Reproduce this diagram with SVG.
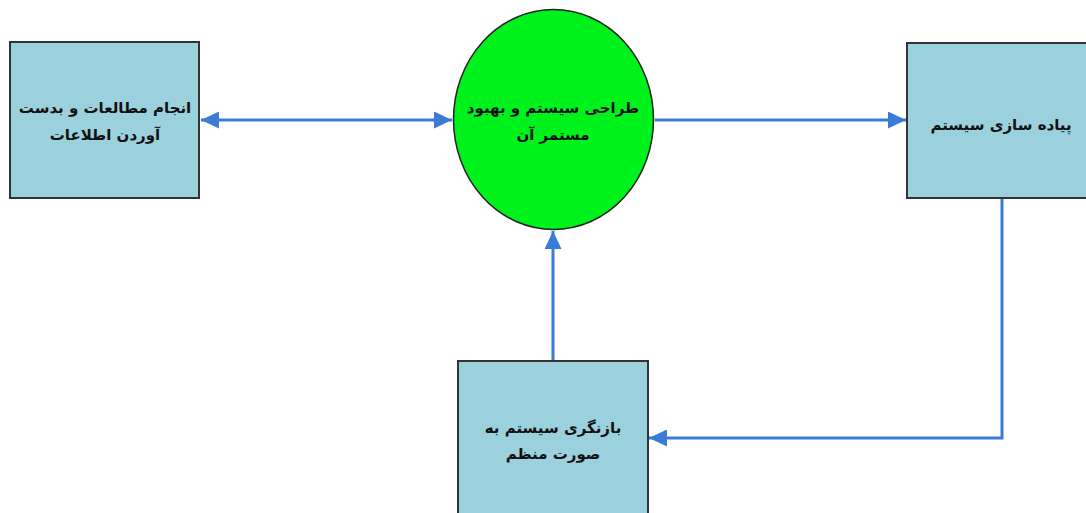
<svg xmlns="http://www.w3.org/2000/svg" width="1086" height="513" viewBox="0 0 1086 513">
<defs>
<marker id="ah" viewBox="0 0 10 10" refX="10" refY="5" markerWidth="18" markerHeight="17" markerUnits="userSpaceOnUse" orient="auto-start-reverse" preserveAspectRatio="none">
<path d="M0,0 L10,5 L0,10 z" fill="#3a7bd5"/>
</marker>
<style>
.box{fill:#9bd0dd;stroke:#333;stroke-width:2}
.circ{fill:#00f21d;stroke:#222;stroke-width:1.5}
.lbl{font-family:"DejaVu Sans",sans-serif;font-weight:bold;font-size:15px;fill:#111;text-anchor:middle}
.con{fill:none;stroke:#3a7bd5;stroke-width:3}
</style>
</defs>
<rect width="1086" height="513" fill="#fff"/>
<g id="connectors">
<line class="con" x1="201" y1="120" x2="452" y2="120" marker-start="url(#ah)" marker-end="url(#ah)"/>
<line class="con" x1="655" y1="120" x2="906" y2="120" marker-end="url(#ah)"/>
<line class="con" x1="553" y1="361" x2="553" y2="231" marker-end="url(#ah)"/>
<polyline class="con" points="1002,198 1002,438 649,438" marker-end="url(#ah)"/>
</g>
<g id="node-study">
<rect class="box" x="10" y="42" width="189" height="156"/>
<text class="lbl" x="105" y="113" direction="rtl">انجام مطالعات و بدست</text>
<text class="lbl" x="105" y="140" direction="rtl">آوردن اطلاعات</text>
</g>
<g id="node-design">
<ellipse class="circ" cx="553.5" cy="119.5" rx="100" ry="110"/>
<text class="lbl" x="553" y="113" direction="rtl">طراحی سیستم و بهبود</text>
<text class="lbl" x="553" y="140" direction="rtl">مستمر آن</text>
</g>
<g id="node-implement">
<rect class="box" x="907" y="43" width="185" height="155"/>
<text class="lbl" x="1001" y="130" direction="rtl">پیاده سازی سیستم</text>
</g>
<g id="node-review">
<rect class="box" x="458" y="361" width="190" height="160"/>
<text class="lbl" x="553" y="433" direction="rtl">بازنگری سیستم به</text>
<text class="lbl" x="553" y="459" direction="rtl">صورت منظم</text>
</g>
</svg>
